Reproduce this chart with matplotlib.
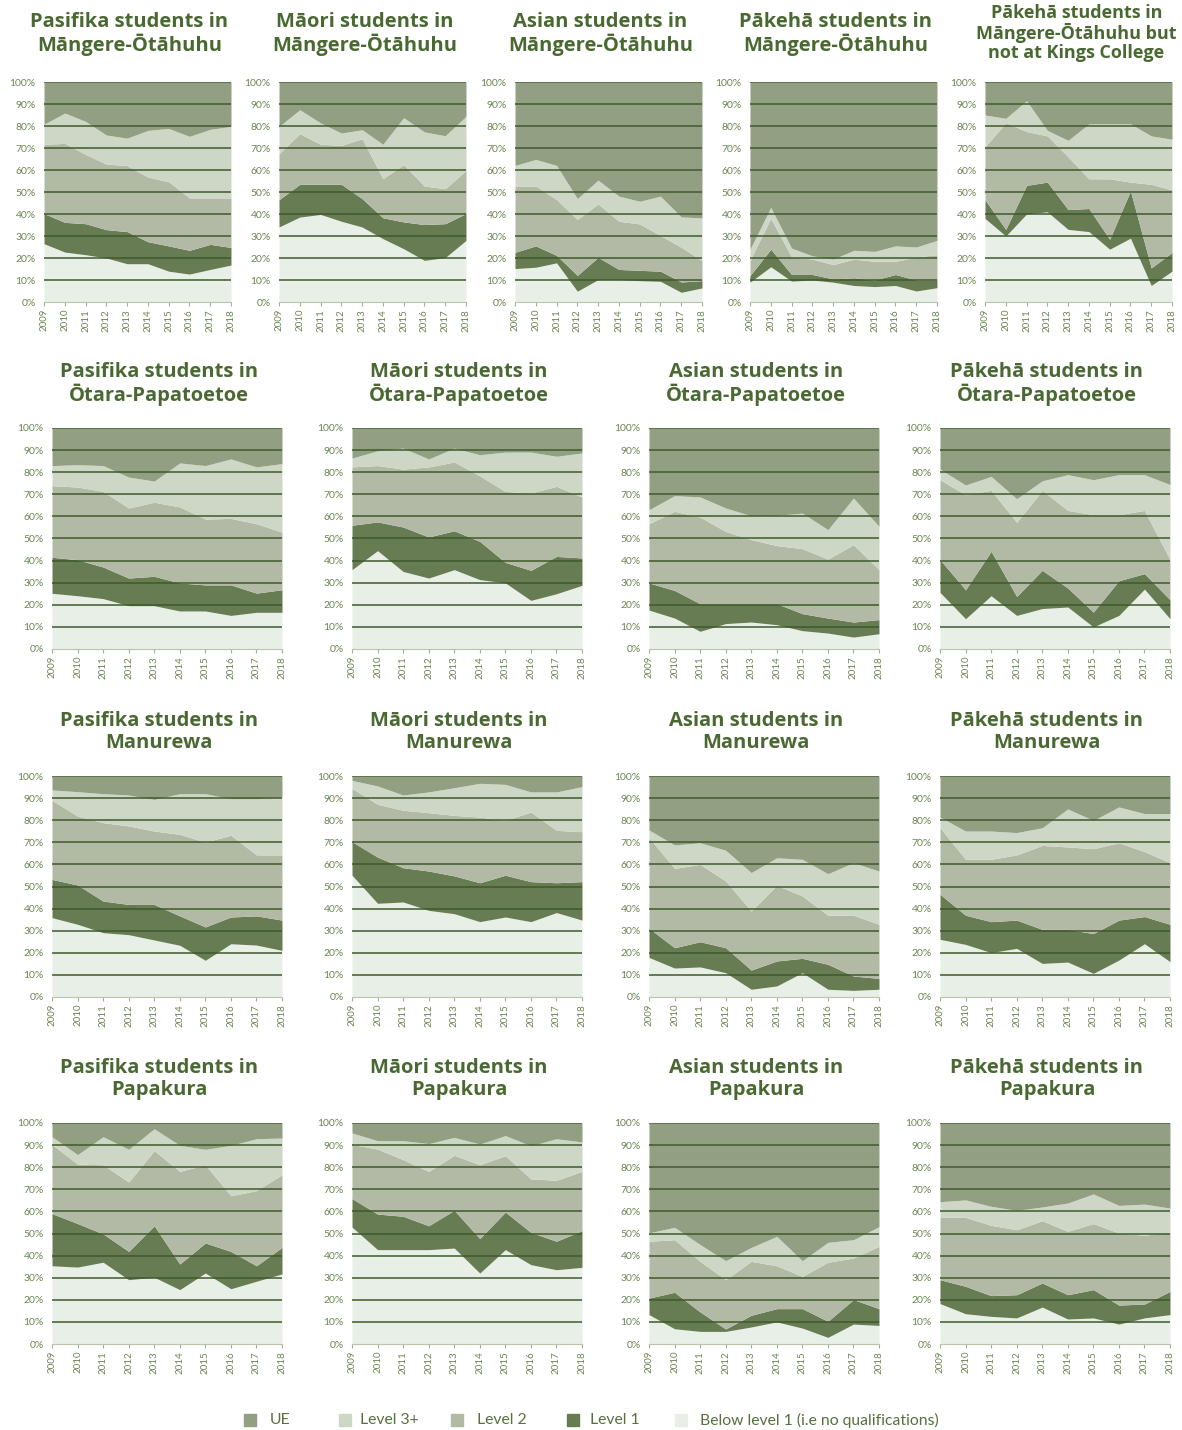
import numpy as np
import matplotlib
matplotlib.use("Agg")
import matplotlib.pyplot as plt

plt.rcParams['font.family'] = ['Lato', 'DejaVu Sans']

years = list(range(2009, 2019))

titles = [
    "Pasifika students in\nMāngere-Ōtāhuhu",
    "Māori students in\nMāngere-Ōtāhuhu",
    "Asian students in\nMāngere-Ōtāhuhu",
    "Pākehā students in\nMāngere-Ōtāhuhu",
    "Pākehā students in\nMāngere-Ōtāhuhu but\nnot at Kings College",
    "Pasifika students in\nŌtara-Papatoetoe",
    "Māori students in\nŌtara-Papatoetoe",
    "Asian students in\nŌtara-Papatoetoe",
    "Pākehā students in\nŌtara-Papatoetoe",
    "Pasifika students in\nManurewa",
    "Māori students in\nManurewa",
    "Asian students in\nManurewa",
    "Pākehā students in\nManurewa",
    "Pasifika students in\nPapakura",
    "Māori students in\nPapakura",
    "Asian students in\nPapakura",
    "Pākehā students in\nPapakura",
]

# cumulative % (top edge of each band), one row per panel
below1_top = [
    [26.5, 22.7, 21.5, 20, 17.4, 17.4, 14, 12.7, 14.8, 16.8],
    [34.1, 38.6, 39.8, 36.7, 34.1, 28.8, 24.2, 18.9, 20.2, 28],
    [15.2, 15.8, 17.8, 4.9, 10.2, 10.2, 9.7, 9.4, 4.4, 6.4],
    [9, 16, 9.5, 10, 9, 7.5, 7, 7.5, 5, 6.5],
    [38, 30, 40, 41, 33, 32, 24, 29, 7.5, 14],
    [25.2, 24.1, 22.8, 19.6, 19.6, 17.2, 17.2, 15.2, 16.6, 16.6],
    [35.9, 44.5, 35.1, 32.1, 35.9, 31.4, 29.9, 22, 25, 28.8],
    [17.6, 14, 8, 11.5, 12.2, 11, 8.3, 7.2, 5.4, 6.9],
    [25.6, 13.7, 24.1, 15.2, 18.3, 19, 10, 15.2, 27.1, 13.7],
    [35.9, 32.9, 29.1, 28.2, 25.8, 23.4, 16.6, 24.1, 23.5, 21.1],
    [55.1, 42.4, 43, 39.2, 37.7, 34.1, 36.2, 34.1, 38.2, 34.8],
    [17.9, 13.1, 13.6, 11, 3.5, 5, 11, 3.5, 3, 3.5],
    [26.1, 23.8, 20.1, 22, 15.2, 15.8, 10.7, 16.7, 24.1, 16],
    [35.4, 34.8, 37, 29.1, 30.2, 24.6, 32.1, 25, 28.4, 31.7],
    [52.9, 42.7, 42.7, 42.7, 43.4, 32.1, 42.7, 35.9, 33.6, 34.7],
    [13.3, 6.9, 5.7, 5.7, 7.7, 10, 7.2, 3, 9, 8.4],
    [18.3, 13.7, 12.5, 11.8, 16.7, 11.3, 11.8, 9, 11.8, 13.3],
]

level1_top = [
    [40.2, 36.2, 35.6, 32.9, 32, 27.4, 25.5, 23.5, 26.2, 24.8],
    [46.5, 53.5, 53.5, 53.5, 47, 38.3, 36.4, 35.2, 35.6, 40.2],
    [22.6, 25.5, 21.2, 12.1, 20.3, 14.8, 14.4, 14, 9.1, 9.7],
    [12, 24, 12.5, 12.5, 10.5, 11, 10, 12.5, 10, 10],
    [46.5, 33, 53, 54.5, 42, 42.5, 28.5, 50.5, 15.5, 22.5],
    [41.5, 40.4, 37.1, 32.1, 32.9, 29.9, 29, 29, 25.3, 26.8],
    [56, 57.5, 55.2, 50.7, 53.5, 48.7, 39.2, 35.6, 41.9, 41.2],
    [29.9, 26.5, 20.5, 20.5, 20.5, 20.5, 16, 14, 12.2, 13.3],
    [40.4, 26.8, 44.2, 23.8, 35.6, 27.6, 16.7, 30.9, 34.1, 22.3],
    [53.2, 50.7, 43.4, 41.9, 41.9, 36.7, 31.7, 36.2, 36.7, 34.8],
    [70.3, 63.3, 58.5, 57, 54.8, 51.7, 55.1, 52.2, 51.7, 52.2],
    [31.1, 22.3, 25, 22.3, 12.2, 16.3, 17.5, 14.8, 9.5, 8.4],
    [46.5, 37, 34.1, 34.8, 30.6, 30.6, 28.7, 34.8, 36.4, 32.9],
    [59, 54.5, 49.8, 41.9, 53.5, 36.2, 45.7, 41.9, 35.4, 43.7],
    [65.8, 58.8, 57.8, 53.5, 60.5, 47.7, 59.7, 50.5, 46.5, 51.3],
    [20.8, 23.4, 14.5, 6.8, 13, 16, 16, 10.3, 20.1, 16],
    [29.1, 26.1, 21.9, 22.3, 27.6, 22.3, 24.6, 17.6, 18.1, 23.8],
]

level2_top = [
    [71.7, 72.1, 67.1, 62.7, 62, 56.8, 54.7, 47.3, 47.3, 47.3],
    [67.4, 76.5, 71.7, 71.2, 74.2, 56.1, 62.4, 52.7, 51.5, 59.8],
    [52.7, 52.7, 46.6, 37.5, 44.6, 36.7, 35.5, 30.2, 24.9, 18.8],
    [19, 38, 20.5, 19.5, 17, 19.5, 18.5, 18.5, 20.5, 21.5],
    [70.5, 81.5, 77.5, 75.5, 66, 56, 56, 54.5, 53.5, 51],
    [73.9, 73.3, 71.3, 63.8, 66.4, 64.3, 58.8, 59.1, 56.7, 52.9],
    [82.4, 83, 81.4, 82.4, 84.6, 78.4, 71.3, 70.6, 73.6, 68.8],
    [56.7, 62.3, 59.7, 53.2, 49.5, 46.8, 45.4, 40.7, 47.2, 35.9],
    [76.6, 69.8, 71.8, 57.3, 71.8, 62.7, 60.8, 60.8, 62.7, 40.4],
    [89, 81.9, 78.9, 77.4, 75.1, 73.6, 70.1, 73.2, 64.3, 64.3],
    [94.4, 87.2, 84.5, 83.4, 82.2, 81.4, 79.9, 83.7, 75.4, 74.8],
    [72.1, 58.2, 60, 52.5, 38.9, 50.5, 45.7, 37, 37, 32.9],
    [76.6, 62.3, 62.3, 64.3, 68.6, 67.9, 67.1, 69.8, 65.8, 60.8],
    [90.3, 81.4, 81.1, 73.3, 87.5, 78.1, 81.1, 67.1, 69.4, 76.6],
    [90.3, 88.2, 83.4, 78.1, 85.4, 81.1, 85.2, 74.7, 74.1, 78.1],
    [46.5, 47.2, 37.4, 29.1, 37.4, 35.4, 30.6, 37, 38.9, 44.2],
    [57.3, 57.3, 53.7, 51.7, 55.8, 51, 54.5, 50.2, 49.2, 50.7],
]

level3_top = [
    [80.8, 85.9, 82.1, 75.9, 74.5, 78, 78.9, 75.3, 78.5, 79.8],
    [79.8, 87.4, 81.4, 76.8, 78.3, 71.7, 83.8, 77.3, 75.6, 84.4],
    [62.1, 64.8, 62.1, 47, 55.4, 48.1, 45.8, 48.1, 38.7, 38.2],
    [24, 43, 24.5, 21, 19.5, 23.5, 23, 25.5, 25, 28],
    [85, 83.5, 91.5, 78, 73.5, 81, 81, 81, 75.5, 74],
    [83, 83.4, 83, 77.8, 76, 84.2, 83, 86, 82.4, 83.9],
    [86.4, 89.7, 90.9, 86, 90.9, 87.9, 89.1, 89.1, 87.2, 88.7],
    [63, 69.4, 68.8, 63.8, 60.3, 60.5, 61.5, 54, 68.3, 55.5],
    [81.4, 74.2, 78.1, 68, 76.1, 78.9, 76.6, 78.9, 78.9, 74.4],
    [93.7, 92.9, 92, 91.4, 89.4, 92, 92, 89.7, 89.7, 90.5],
    [98, 95.5, 91.4, 92.8, 94.7, 96.7, 96.2, 92.8, 92.8, 95.2],
    [75.6, 68.8, 69.8, 66.4, 56.3, 63, 62.3, 55.8, 60.8, 57],
    [81.4, 75.1, 75.1, 74.4, 76.6, 85.1, 79.9, 86, 83, 83],
    [93.8, 85.7, 93.8, 88.1, 97.4, 89.9, 88.1, 89.9, 92.9, 93.2],
    [95.5, 92, 92, 90.7, 93.5, 90.5, 94.3, 89.7, 92.9, 91.4],
    [50.3, 52.8, 45, 37.7, 43.7, 48.7, 37.7, 46, 47.2, 53.1],
    [64.4, 65.2, 62.3, 60.5, 62, 63.8, 67.9, 62.7, 63.3, 61.5],
]

levels = ["UE", "Level 3+", "Level 2", "Level 1", "Below level 1 (i.e no qualifications)"]
colors = ["#939f82", "#ced7c5", "#b2baa5", "#687c54", "#e8efe7"]
c_below, c_l1, c_l2, c_l3, c_ue = colors[4], colors[3], colors[2], colors[1], colors[0]

grid_c = "#3e5a2b"
tick_c = "#6a8552"
title_c = "#4a6932"
title_font = ['Open Sans', 'DejaVu Sans']

W, H = 1182, 1430
fig = plt.figure(figsize=(W / 100, H / 100), dpi=100)

# axes boxes in pixels: left, right, top, bottom
boxes = []
for l in [44, 279, 515, 750, 985]:
    boxes.append((l, l + 187, 82, 302))
for t in [428, 776, 1123]:
    for l in [52, 352, 649, 940]:
        boxes.append((l, l + 230, t, t + 221))

title_y = [34, 34, 34, 34, 33] + [384] * 4 + [732] * 4 + [1079] * 4

for i, (l, r, t, b) in enumerate(boxes):
    ax = fig.add_axes([l / W, 1 - b / H, (r - l) / W, (b - t) / H])
    y0 = np.zeros(len(years))
    tops = [below1_top[i], level1_top[i], level2_top[i], level3_top[i], [100] * len(years)]
    fills = [c_below, c_l1, c_l2, c_l3, c_ue]
    for top, col in zip(tops, fills):
        ax.fill_between(years, y0, top, color=col, lw=0, zorder=1)
        y0 = np.array(top)
    for g in range(10, 101, 10):
        ax.axhline(g, color=grid_c, lw=1.1, zorder=3)
    ax.set_xlim(2009, 2018)
    ax.set_ylim(0, 100)
    ax.set_yticks(range(0, 101, 10))
    ax.set_yticklabels([f"{v}%" for v in range(0, 101, 10)])
    ax.set_xticks(years)
    ax.set_xticklabels([str(y) for y in years], rotation=90)
    ax.tick_params(axis="y", length=0, pad=6, labelsize=7.5, labelcolor=tick_c)
    ax.tick_params(axis="x", length=3, width=0.8, color="#a4b093", pad=2,
                   labelsize=7, labelcolor=tick_c)
    for s in ["top", "left", "right"]:
        ax.spines[s].set_visible(False)
    ax.spines["bottom"].set_color("#b9c3ad")
    ax.spines["bottom"].set_linewidth(0.8)

    cx = (l + r) / 2 - 8
    if i == 4:
        fig.text((cx + 6) / W, 1 - title_y[i] / H, titles[i], ha="center", va="center",
                 fontsize=13, fontweight="bold", color=title_c, linespacing=1.05,
                 family=title_font)
    else:
        fig.text(cx / W, 1 - title_y[i] / H, titles[i], ha="center", va="center",
                 fontsize=14.5, fontweight="bold", color=title_c, linespacing=1.1,
                 family=title_font)

# legend
leg_sq = [250, 345, 457, 573, 681]
leg_tx = [270, 360, 477, 590, 700]
for sq, tx, name, col in zip(leg_sq, leg_tx, levels, colors):
    fig.patches.append(plt.Rectangle(((sq - 6) / W, 1 - 1426 / H), 12 / W, 12 / H,
                                     transform=fig.transFigure, color=col, figure=fig))
    fig.text(tx / W, 1 - 1420 / H, name, ha="left", va="center", fontsize=11.3,
             color="#56703f")

fig.savefig("out.png", dpi=100)
